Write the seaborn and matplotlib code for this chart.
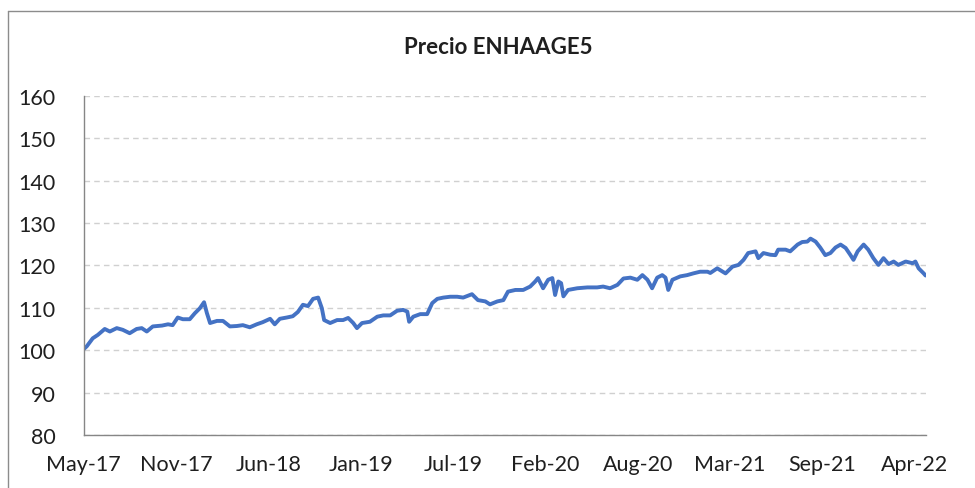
import pandas as pd
import numpy as np
import matplotlib
matplotlib.use('Agg')
import matplotlib.pyplot as plt
import matplotlib.dates as mdates
from matplotlib.lines import Line2D
import seaborn as sns

# ── DATA ─────────────────────────────────────────────────
dates = [
    '2017-05-12', '2017-05-19', '2017-06-01', '2017-06-12', '2017-06-27', '2017-07-08',
    '2017-07-23', '2017-08-05', '2017-08-20', '2017-09-04', '2017-09-15', '2017-09-26',
    '2017-10-09', '2017-10-29', '2017-11-11', '2017-11-21', '2017-12-02', '2017-12-13',
    '2017-12-28', '2018-01-08', '2018-01-19', '2018-01-28', '2018-02-03', '2018-02-10',
    '2018-02-25', '2018-03-10', '2018-03-25', '2018-04-09', '2018-04-22', '2018-05-07',
    '2018-05-22', '2018-06-04', '2018-06-20', '2018-06-30', '2018-07-11', '2018-07-26',
    '2018-08-08', '2018-08-19', '2018-08-30', '2018-09-10', '2018-09-21', '2018-10-02',
    '2018-10-10', '2018-10-15', '2018-10-28', '2018-11-12', '2018-11-25', '2018-12-06',
    '2018-12-17', '2018-12-25', '2019-01-05', '2019-01-22', '2019-02-07', '2019-02-20',
    '2019-03-07', '2019-03-22', '2019-04-04', '2019-04-13', '2019-04-17', '2019-04-26',
    '2019-05-11', '2019-05-26', '2019-06-06', '2019-06-17', '2019-06-30', '2019-07-15',
    '2019-07-30', '2019-08-12', '2019-08-31', '2019-09-13', '2019-09-29', '2019-10-09',
    '2019-10-25', '2019-11-07', '2019-11-17', '2019-12-03', '2019-12-20', '2020-01-04',
    '2020-01-15', '2020-01-21', '2020-02-01', '2020-02-12', '2020-02-21', '2020-02-27',
    '2020-03-05', '2020-03-11', '2020-03-16', '2020-03-26', '2020-04-15', '2020-05-07',
    '2020-05-28', '2020-06-10', '2020-06-25', '2020-07-11', '2020-07-24', '2020-08-08',
    '2020-08-23', '2020-09-03', '2020-09-14', '2020-09-24', '2020-10-05', '2020-10-16',
    '2020-10-23', '2020-10-29', '2020-11-07', '2020-11-24', '2020-12-09', '2020-12-22',
    '2021-01-06', '2021-01-22', '2021-01-28', '2021-02-12', '2021-03-02', '2021-03-17',
    '2021-03-30', '2021-04-10', '2021-04-20', '2021-05-06', '2021-05-12', '2021-05-23',
    '2021-06-07', '2021-06-18', '2021-06-24', '2021-07-10', '2021-07-20', '2021-08-05',
    '2021-08-15', '2021-08-26', '2021-09-02', '2021-09-13', '2021-09-23', '2021-10-04',
    '2021-10-15', '2021-10-26', '2021-11-06', '2021-11-17', '2021-11-27', '2021-12-04',
    '2021-12-13', '2021-12-26', '2022-01-05', '2022-01-16', '2022-01-27', '2022-02-07',
    '2022-02-18', '2022-03-01', '2022-03-11', '2022-03-27', '2022-04-11', '2022-04-17',
    '2022-04-24', '2022-05-05', '2022-05-09',
]
precio = [
    100.2, 100.9, 102.8, 103.6, 105.0, 104.4,
    105.2, 104.8, 104.0, 105.0, 105.2, 104.4,
    105.6, 105.8, 106.1, 105.9, 107.7, 107.3,
    107.3, 108.7, 109.9, 111.3, 108.8, 106.4,
    106.9, 106.9, 105.6, 105.7, 105.9, 105.4,
    106.1, 106.6, 107.4, 106.1, 107.4, 107.7,
    108.0, 109.0, 110.7, 110.4, 112.1, 112.4,
    109.9, 107.1, 106.4, 107.1, 107.1, 107.6,
    106.4, 105.2, 106.4, 106.7, 107.9, 108.2,
    108.2, 109.3, 109.5, 109.1, 106.7, 107.9,
    108.5, 108.5, 111.1, 112.1, 112.4, 112.6,
    112.6, 112.4, 113.2, 111.8, 111.5, 110.8,
    111.5, 111.8, 113.8, 114.2, 114.2, 115.0,
    116.2, 117.0, 114.6, 116.6, 117.0, 113.0,
    116.2, 115.8, 112.7, 114.2, 114.6, 114.8,
    114.8, 115.0, 114.6, 115.4, 116.9, 117.1,
    116.6, 117.7, 116.6, 114.6, 117.1, 117.7,
    117.1, 114.2, 116.6, 117.4, 117.7, 118.1,
    118.5, 118.5, 118.2, 119.3, 118.1, 119.7,
    120.1, 121.3, 122.9, 123.3, 121.7, 122.9,
    122.5, 122.4, 123.7, 123.7, 123.3, 124.9,
    125.5, 125.6, 126.3, 125.6, 124.2, 122.4,
    122.9, 124.2, 124.9, 124.1, 122.5, 121.3,
    123.3, 124.9, 123.7, 121.7, 120.1, 121.7,
    120.3, 120.9, 120.1, 120.9, 120.5, 120.9,
    119.3, 118.1, 117.6,
]
y_ticks = [80, 90, 100, 110, 120, 130, 140, 150, 160]

df = pd.DataFrame({'Fecha': pd.to_datetime(dates), 'Precio': precio})

# ── STYLE ─────────────────────────────────────────────────
sns.set_theme(style='white')
plt.rcParams['font.family'] = ['Lato', 'DejaVu Sans']
LINE = '#4472C4'
AXIS = '#868686'
GRID = '#d0d0d0'
TEXT = '#1f1f1f'

fig = plt.figure(figsize=(9.75, 4.89), dpi=100)
fig.patch.set_facecolor('white')
ax = fig.add_axes([83.5 / 975, 1 - 436 / 489, (926 - 83.5) / 975, (436 - 96.7) / 489])

sns.lineplot(data=df, x='Fecha', y='Precio', ax=ax, color=LINE, linewidth=2.8)

ax.set_ylim(80, 160)
ax.set_yticks(y_ticks)
ax.set_xlim(pd.Timestamp('2017-05-12'), pd.Timestamp('2022-05-10'))
ax.set_xticks(pd.date_range('2017-05-12', periods=10, freq='200D'))
ax.xaxis.set_major_formatter(mdates.DateFormatter('%b-%y'))

ax.yaxis.grid(True, color=GRID, linestyle=(0, (4, 3)), linewidth=1)
ax.xaxis.grid(False)
ax.set_xlabel('')
ax.set_ylabel('')

for side in ['top', 'right']:
    ax.spines[side].set_visible(False)
for side in ['left', 'bottom']:
    ax.spines[side].set_color(AXIS)
    ax.spines[side].set_linewidth(1)

ax.tick_params(axis='both', which='major', direction='out', length=6, width=1,
               color=AXIS, labelsize=15.5, labelcolor=TEXT)
ax.tick_params(axis='y', pad=14)
ax.tick_params(axis='x', pad=8)

fig.text(498 / 975, 1 - 47 / 489, 'Precio ENHAAGE5', ha='center', va='center',
         fontsize=16, fontweight='bold', color=TEXT)

# chart frame (top and left edges visible in the screenshot)
fig.add_artist(Line2D([8 / 975, 1.0], [1 - 12 / 489, 1 - 12 / 489], transform=fig.transFigure,
                      color='#8c8c8c', linewidth=1))
fig.add_artist(Line2D([8 / 975, 8 / 975], [0, 1 - 12 / 489], transform=fig.transFigure,
                      color='#8c8c8c', linewidth=1))

plt.savefig('out.png', dpi=100, facecolor='white')
